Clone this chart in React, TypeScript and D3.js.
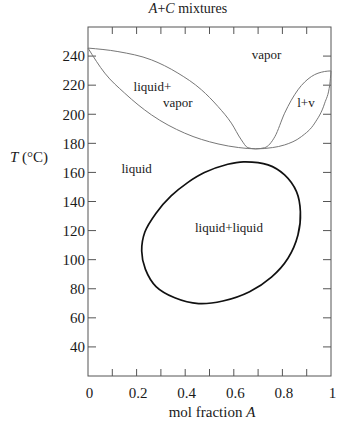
import React from "react";
import * as d3 from "d3";

// Dew (vapor) curve: mol fraction A, T (°C)
const dewX = [0, 0.123, 0.261, 0.37, 0.467, 0.535, 0.59, 0.631, 0.658, 0.69, 0.727, 0.769, 0.809, 0.864, 0.919, 0.974, 1];
const dewT = [245.5, 243.1, 237.4, 228.3, 216.8, 205.3, 193.9, 182.4, 177.0, 176.2, 177.0, 184.6, 200.7, 216.8, 225.9, 229.4, 229.8];

// Bubble (liquid) curve
const bubX = [0, 0.069, 0.151, 0.261, 0.398, 0.535, 0.62, 0.69, 0.76, 0.809, 0.878, 0.933, 0.974, 0.995, 1];
const bubT = [245.5, 228.3, 214.5, 199.6, 187, 179.6, 177.1, 176.2, 177.1, 178.9, 184.6, 193.9, 207.6, 220.5, 229.8];

// Liquid-liquid coexistence loop
const llX = [0.64, 0.741, 0.809, 0.858, 0.874, 0.864, 0.823, 0.755, 0.665, 0.555, 0.455, 0.357, 0.28, 0.236, 0.221, 0.234, 0.28, 0.342, 0.41, 0.479, 0.575];
const llT = [167.3, 165.2, 158.3, 146.8, 133.0, 117.0, 101.0, 88.0, 78.0, 71.6, 69.8, 73.8, 81.5, 93.5, 106.0, 119.0, 132.0, 143.8, 153.0, 159.9, 165.6];

const xTickLabels = [0, 0.2, 0.4, 0.6, 0.8, 1];
const xMinorTicks = [0.1, 0.2, 0.3, 0.4, 0.5, 0.6, 0.7, 0.8, 0.9];
const yTicks = [40, 60, 80, 100, 120, 140, 160, 180, 200, 220, 240];

const regionLabels = [
  { text: "vapor", x: 0.735, t: 241 },
  { text: "liquid+", x: 0.265, t: 219 },
  { text: "vapor", x: 0.37, t: 208 },
  { text: "l+v", x: 0.897, t: 208 },
  { text: "liquid", x: 0.2, t: 163 },
  { text: "liquid+liquid", x: 0.58, t: 122 },
];

const FONT = "Liberation Serif, Times New Roman, DejaVu Serif, serif";

export default function App() {
  const W = 361, H = 430;
  const L = 88, R = 331, T = 27, B = 376;
  const x = d3.scaleLinear().domain([0, 1]).range([L, R]);
  const y = d3.scaleLinear().domain([20, 260]).range([B, T]);

  const line = d3
    .line<[number, number]>()
    .x((d) => x(d[0]))
    .y((d) => y(d[1]))
    .curve(d3.curveMonotoneX);
  const closed = d3
    .line<[number, number]>()
    .x((d) => x(d[0]))
    .y((d) => y(d[1]))
    .curve(d3.curveCatmullRomClosed);

  const dew = dewX.map((v, i) => [v, dewT[i]] as [number, number]);
  const bub = bubX.map((v, i) => [v, bubT[i]] as [number, number]);
  const ll = llX.map((v, i) => [v, llT[i]] as [number, number]);

  const axisColor = "#555";
  const textColor = "#1a1a1a";

  return (
    <svg
      width={W}
      height={H}
      style={{ position: "absolute", left: 0, top: 0, background: "#fff", fontFamily: FONT }}
    >
      <rect x={0} y={0} width={W} height={H} fill="#fff" />
      <text x={188} y={13} textAnchor="middle" fontSize={14} fill={textColor}>
        <tspan fontStyle="italic">A</tspan>+<tspan fontStyle="italic">C</tspan> mixtures
      </text>

      {/* frame */}
      <rect x={L} y={T} width={R - L} height={B - T} fill="none" stroke={axisColor} strokeWidth={1} />

      {/* x ticks */}
      {xMinorTicks.map((v) => (
        <g key={"xt" + v}>
          <line x1={x(v)} x2={x(v)} y1={B} y2={B - 7} stroke={axisColor} />
          <line x1={x(v)} x2={x(v)} y1={T} y2={T + 7} stroke={axisColor} />
        </g>
      ))}
      {xTickLabels.map((v) => (
        <text key={"xl" + v} x={x(v) + 1.5} y={398} textAnchor="middle" fontSize={15} fill={textColor}>
          {v}
        </text>
      ))}

      {/* y ticks */}
      {yTicks.map((v) => (
        <g key={"yt" + v}>
          <line x1={L} x2={L + 8} y1={y(v)} y2={y(v)} stroke={axisColor} />
          <line x1={R} x2={R - 8} y1={y(v)} y2={y(v)} stroke={axisColor} />
          <text x={85} y={y(v)} dy="0.35em" textAnchor="end" fontSize={15} fill={textColor}>
            {v}
          </text>
        </g>
      ))}

      <text x={10} y={162} fontSize={15} fill={textColor}>
        <tspan fontStyle="italic">T</tspan> (°C)
      </text>
      <text x={212} y={417} textAnchor="middle" fontSize={15} fill={textColor}>
        mol fraction <tspan fontStyle="italic">A</tspan>
      </text>

      {/* phase curves */}
      <path d={line(dew) || ""} fill="none" stroke="#777" strokeWidth={1} />
      <path d={line(bub) || ""} fill="none" stroke="#777" strokeWidth={1} />
      <path d={closed(ll) || ""} fill="none" stroke="#111" strokeWidth={1.7} />

      {regionLabels.map((r, i) => (
        <text
          key={"rl" + i}
          x={x(r.x)}
          y={y(r.t)}
          dy="0.35em"
          textAnchor="middle"
          fontSize={13}
          fill={textColor}
        >
          {r.text}
        </text>
      ))}
    </svg>
  );
}
